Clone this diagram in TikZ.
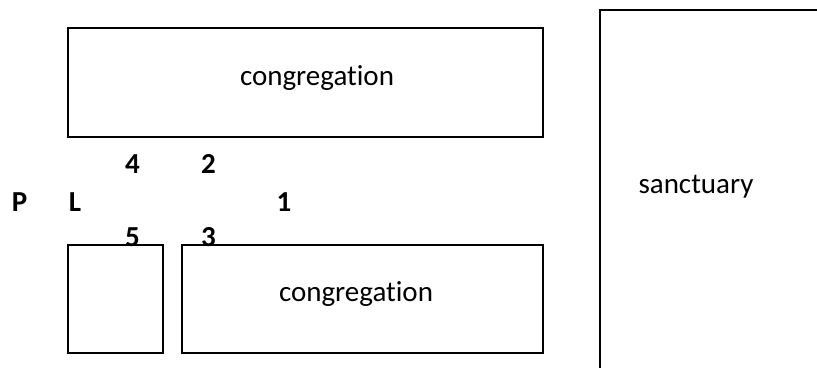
\documentclass[tikz,border=0pt]{standalone}
\usepackage{fontspec}
\setmainfont{Carlito}[Ligatures={NoCommon}]
\begin{document}
\begin{tikzpicture}[x=1pt,y=-1pt,
  box/.style={draw=black,line width=2pt},
  lbl/.style={anchor=base,inner sep=0pt,font=\fontsize{29}{34}\selectfont},
  num/.style={anchor=base,inner sep=0pt,font=\fontsize{29}{34}\selectfont\bfseries}]
\useasboundingbox (0,0) rectangle (817,367);
\begin{scope}
\clip (0,0) rectangle (817,367);
\draw[box] (600,10) rectangle (840,390);
\end{scope}
\draw[box] (67.5,28) rectangle (543,137);
\draw[box] (67.5,245) rectangle (163,353);
\draw[box] (182,245) rectangle (543,353);
\node[lbl] (c1) at (317,85) {congregation};
\node[lbl] (c2) at (356,301) {congregation};
\node[lbl] (s) at (696,193) {sanctuary};
\node[num] (n4) at (132.5,173) {4};
\node[num] (n2) at (208.5,173) {2};
\node[num] (P) at (19.5,211) {P};
\node[num] (L) at (75,211) {L};
\node[num] (n1) at (284,211) {1};
\node[num] (n5) at (132.5,246) {5};
\node[num] (n3) at (208.5,246) {3};
\end{tikzpicture}
\end{document}
